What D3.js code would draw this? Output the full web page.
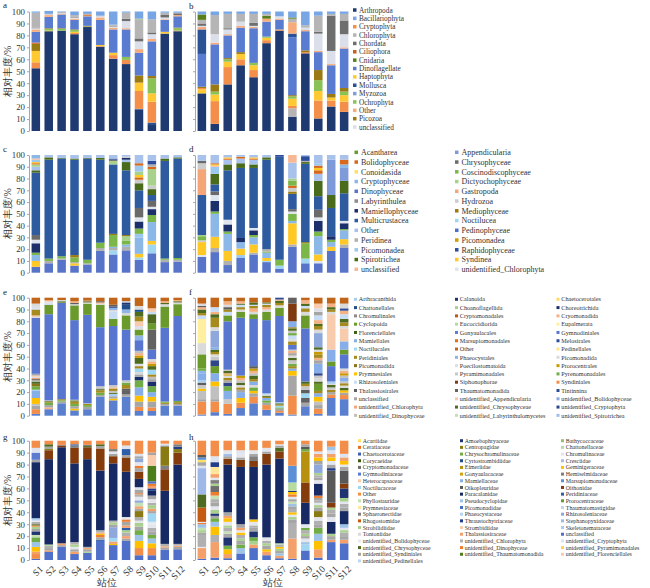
<!DOCTYPE html>
<html><head><meta charset="utf-8">
<script src="https://cdn.jsdelivr.net/npm/d3@7"></script>
<style>body{margin:0;background:#fff}svg{display:block}text{font-family:"Liberation Serif","Times New Roman",serif}</style>
</head><body><svg id="chart" width="650" height="588"></svg>
<script>
const stations = ["S1","S2","S3","S4","S5","S6","S7","S8","S9","S10","S11","S12"];
const yTicks = [0,10,20,30,40,50,60,70,80,90,100];

// ---- panels a, b (phylum) ----
const catsA = ["Arthropoda","Bacillariophyta","Cryptophyta","Chlorophyta","Chordata","Ciliophora","Cnidaria","Dinoflagellate","Haptophyta","Mollusca","Myzozoa","Ochrophyta","Other","Picozoa","unclassified"];
const colorsA = ["#1f3a70","#78a6e4","#f38f4b","#b5b5b5","#6e6e6e","#c8601c","#5a7d1e","#5a7cd0","#ffc933","#2a5294","#7e9fdd","#8ac256","#f7ab7b","#9a7a12","#dadfe9"];
const barsA = [
 [[0,52.5],[2,5],[8,9.5],[13,6],[5,1],[7,9],[12,2],[14,1],[4,0.5],[3,12.5],[1,1]],
 [[0,83.5],[8,0.5],[11,1.5],[13,0.5],[7,9.5],[12,1.5],[14,0.5],[3,0.5],[1,2.5]],
 [[0,84],[11,1.5],[13,0.5],[7,11.5],[12,0.5],[14,0.5],[3,1],[1,0.5]],
 [[0,81],[2,1],[8,1],[11,1.5],[13,0.5],[7,8],[12,1],[14,1],[4,0.5],[3,1.5],[1,3]],
 [[0,87],[11,0.5],[13,0.5],[7,8],[12,0.5],[5,1],[3,0.5],[1,2]],
 [[0,70.5],[2,0.5],[8,1],[7,21],[12,2],[14,1],[3,0.5],[1,3.5]],
 [[0,60.5],[2,3],[8,2],[7,19.5],[12,1.5],[14,1],[4,0.5],[3,1],[1,11]],
 [[0,56],[2,3.5],[11,2.5],[7,23],[12,1],[14,6],[4,2],[3,5],[1,1]],
 [[0,18],[9,0.5],[2,15],[8,7],[13,6],[7,19],[12,3],[14,6.5],[4,2.5],[3,16],[11,0.5],[1,6]],
 [[0,5],[9,2],[2,17.5],[8,7],[11,12.5],[13,2],[7,29],[12,2],[14,4],[4,1.5],[3,11],[1,6.5]],
 [[0,81.5],[8,1.5],[7,10],[12,0.5],[14,1.5],[4,2.5],[3,1.5],[1,1]],
 [[0,83.5],[2,0.5],[11,2],[13,0.5],[7,9.5],[12,1],[4,1.5],[3,0.5],[1,1]]
];
const barsB = [
 [[0,31.5],[8,3.5],[2,1],[13,1],[7,27.5],[9,20.5],[12,2],[14,1],[4,2],[3,3],[6,4.5],[1,2.5]],
 [[0,6],[2,19],[8,5.5],[11,2.5],[13,6],[7,33.5],[12,1.5],[14,7],[3,16],[1,3]],
 [[0,39],[2,14.5],[8,4.5],[11,2],[13,1],[7,19],[12,1],[14,4],[4,1],[3,12],[1,2]],
 [[0,55],[2,5],[8,4.5],[13,1.5],[7,20.5],[12,1.5],[14,3.5],[3,6.5],[1,2]],
 [[0,45],[2,6],[8,4],[11,2],[7,29],[12,1],[14,1],[4,2.5],[3,7.5],[1,2]],
 [[0,73.5],[2,2.5],[8,2],[11,1],[7,12.5],[12,2.5],[6,2.5],[3,1.5],[1,2]],
 [[0,84],[2,1],[7,8],[12,1],[14,2],[1,4]],
 [[0,12],[3,7],[2,2],[8,6],[11,2],[13,1],[7,48.5],[9,3],[12,9.5],[3,3],[6,1],[1,5]],
 [[0,65],[2,1],[13,1.5],[7,16],[12,1],[14,2],[3,2],[1,11.5]],
 [[0,10.5],[2,15],[8,8],[11,9],[13,8.5],[7,15],[12,1],[14,14.5],[4,1.5],[3,13.5],[1,3.5]],
 [[0,20.5],[2,5],[8,2.5],[13,3],[7,24],[12,1],[14,11],[4,29.5],[3,1.5],[1,2]],
 [[0,16],[2,8.5],[8,5.5],[11,3],[13,3],[7,33],[12,1],[14,11],[4,11.5],[3,5.5],[1,2]]
];

// ---- panels c, d (class) ----
const catsC = ["Acantharea","Bolidophyceae","Conoidasida","Cryptophyceae","Dinophyceae","Labyrinthulea","Mamiellophyceae","Multicrustacea","Other","Peridinea","Picomonadea","Spirotrichea","unclassified",
 "Appendicularia","Chrysophyceae","Coscinodiscophyceae","Dictyochophyceae","Gastropoda","Hydrozoa","Mediophyceae","Noctilucea","Pedinophyceae","Picomonadea","Raphidophyceae","Syndinea","unidentified_Chlorophyta"];
const colorsC = ["#6b9a35","#d8691c","#ffe066","#8cb8e8","#5874c8","#8c8c8c","#1b2f6b","#2e5b9f","#a9c2ec","#b0b0b0","#9cc8ef","#4a6b1c","#f8b894",
 "#7f9ad8","#6a6a6a","#7ab648","#a8d28c","#f4a679","#cccccc","#9b7c13","#9fd6f2","#4b72c6","#c9a000","#2e4d9a","#ffc825","#dfe5ee"];
const barsC = [
 [[4,5],[24,5],[3,5],[15,2],[6,8],[25,3],[14,4],[7,53],[11,2],[8,3],[16,2],[1,1],[24,1],[10,2],[12,1],[3,3]],
 [[4,8],[9,2],[15,2],[7,84],[11,2],[8,2]],
 [[4,11],[9,1],[15,2],[7,83],[11,0.5],[8,2.5]],
 [[4,6],[24,2],[9,1],[15,4],[19,2],[7,81],[11,1],[8,3]],
 [[4,7],[9,1],[15,3],[7,86],[11,0.5],[8,2.5]],
 [[4,18.5],[9,2.5],[15,4.5],[7,70.5],[11,1.5],[8,2.5]],
 [[4,15.5],[20,3.5],[9,2],[3,1],[15,10],[19,1],[7,59],[16,3],[14,1],[23,1],[8,3]],
 [[4,19],[9,3],[3,2],[15,3],[16,4],[19,1],[7,55],[11,7],[8,2],[6,1.5],[18,1],[8,1.5]],
 [[4,11],[20,2],[24,3],[3,14],[10,3],[15,4.5],[6,6],[25,3.5],[14,8],[7,15],[11,6],[18,3],[1,2],[24,2],[16,3],[10,5],[1,2],[8,7]],
 [[4,16.5],[20,7.5],[24,3],[3,16],[15,6],[6,5],[25,2],[14,5],[7,5],[11,5],[18,3],[16,14],[1,2],[9,2],[23,3],[8,5]],
 [[4,9],[9,2],[15,1],[7,83],[11,2],[8,3]],
 [[4,9.5],[9,1.5],[15,1.5],[7,84.5],[11,1],[8,2]]
];
const barsD = [
 [[4,13.5],[25,1.5],[24,11],[18,1.5],[15,3.5],[16,1],[7,34],[17,22],[18,5],[14,2],[8,5]],
 [[4,17.5],[9,3.5],[24,9.5],[3,19.5],[15,2],[6,9],[25,5],[14,3],[7,6],[11,9],[10,6],[12,1],[24,1],[1,1],[8,7]],
 [[4,6.5],[9,3.5],[24,8.5],[3,14.5],[15,2],[6,6],[25,4],[7,42],[11,5],[8,4],[1,1],[24,1],[8,2]],
 [[4,12.5],[10,2.5],[24,5.5],[3,5.5],[6,3.5],[7,59.5],[11,4],[8,4],[1,1.5],[8,1.5]],
 [[4,15.5],[9,1.5],[24,7],[3,6],[15,2],[6,4],[25,2],[7,51],[11,3],[8,4],[1,1],[24,1],[8,2]],
 [[4,9],[20,1],[24,2.5],[3,4.5],[15,1],[9,2],[7,76],[11,2],[8,2]],
 [[4,3.5],[20,2.5],[15,5],[7,87.5],[23,1.5]],
 [[4,22],[9,2],[24,18],[3,2],[15,6],[25,2],[14,2],[7,13],[19,2],[18,3],[1,2],[15,4],[16,2],[8,13.5],[12,6.5]],
 [[4,8],[20,4],[15,13],[19,1],[7,66.5],[11,1.5],[9,1],[23,4],[8,1]],
 [[4,8],[25,2],[24,5.5],[3,15.5],[15,4],[6,9],[25,3],[14,6.5],[7,11.5],[11,13],[8,6],[1,3],[24,2],[1,2],[10,2],[8,7]],
 [[4,18.5],[24,3.5],[3,4],[15,2],[6,3],[7,24],[11,11],[13,30],[8,4]],
 [[4,21],[9,3],[24,4.5],[3,7.5],[15,1],[6,5],[25,2],[7,23.5],[11,10.5],[13,11],[3,3],[1,4],[8,4]]
];

// ---- panels e, f (order) ----
const catsE = ["Arthracanthida","Chattonellales","Chromulinales","Cyclopoida","Florenciellales","Mamiellales","Noctilucales","Peridiniales","Picomonadida","Prymnesiales","Rhizosoleniales","Thalassiosirales","unclassified","unidentified_Chlorophyta","unidentified_Dinophyceae",
 "Calanoida","Choanoflagellida","Cryptomonadales","Eucoccidiorida","Gonyaulacales","Marsupiomonadales","Other","Phaeocystales","Poecilostomatoida","Pyramimonadales","Siphonophorae","Thaumatomonadida","unidentified_Appendicularia","unidentified_Chrysophyceae","unidentified_Labyrinthulomycetes",
 "Chaetocerotales","Choreotrichida","Cryomonadida","Eupalmerata","Gymnodiniales","Melosirales","Pedinellales","Picomonadida","Prorocentrales","Pyrenomonadales","Syndiniales","Tintinnina","unidentified_Bolidophyceae","unidentified_Cryptophyta","unidentified_Spirotrichea"];
const colorsE = ["#a8cdef","#1f4e8c","#8a8a8a","#6b9a2c","#3d5c1a","#86aee8","#9ed8f2","#a68a1d","#8a7318","#ffc000","#c8ddf5","#5e5e5e","#a6a6a6","#f4a582","#c0c0c0",
 "#1f3470","#a9d08e","#b95a1a","#b6dba0","#5b7fcf","#e46c1c","#c0651a","#8fb4e8","#dcdfe6","#c8c8c8","#7f3a10","#626262","#f8cbad","#4e6b1f","#c5e0b4",
 "#ffd966","#1d2f6a","#f4b183","#fff0a0","#5876cf","#2c4a9a","#ffe88a","#dadada","#c79a00","#70ad47","#f28e4a","#2a4f96","#8ea8dc","#2e4588","#a2bde8"];
const barsE = [
 [[19,1.5],[40,4],[12,3],[14,1.5],[9,5],[5,6],[0,1],[39,3],[8,2],[28,2],[14,1],[11,1],[13,1],[37,1],[27,1],[12,1.5],[34,47.5],[37,1],[32,1],[7,5],[10,1],[23,2],[37,2],[21,5]],
 [[19,5.5],[32,1.5],[12,2],[39,2],[7,1],[28,0.5],[24,0.5],[34,73],[3,8],[10,1],[37,1],[23,1],[32,1],[21,2]],
 [[19,10.5],[12,1.5],[39,1],[7,1],[34,81.5],[3,0.5],[28,1],[37,1],[21,2]],
 [[19,4.5],[9,1.5],[12,2],[39,2],[7,2],[28,1],[24,0.5],[34,67.5],[3,12.5],[37,1],[11,1],[32,1.5],[21,3]],
 [[19,5.5],[12,2],[39,1.5],[7,1],[24,0.5],[34,75],[3,9.5],[37,1],[28,1],[32,0.5],[21,2.5]],
 [[19,16],[12,1.5],[39,2],[7,2],[28,1],[14,1],[24,1.5],[34,50],[3,19],[37,1],[32,1],[11,1],[21,3]],
 [[19,13],[9,1.5],[12,2],[0,2],[28,1],[14,1.5],[7,2],[32,1],[24,2],[34,50],[3,6],[10,6.5],[37,1],[22,2],[15,1],[11,1.5],[21,6]],
 [[19,16],[12,2],[26,3],[11,2],[7,3],[39,2],[24,2],[34,43],[3,12],[37,2],[22,3],[1,4],[15,2],[10,1],[21,3]],
 [[19,4],[40,3.5],[12,4.5],[9,5],[5,7],[39,6],[31,3],[12,2],[37,2],[6,3],[7,2],[23,2],[28,5],[38,2],[32,2],[14,2],[34,9],[22,4],[3,5],[23,3],[27,4],[7,4],[28,4],[1,2],[37,3],[21,7]],
 [[19,4],[40,3],[12,5],[9,4],[5,4],[39,5],[31,4],[12,2],[14,2],[7,2],[6,4],[28,3],[38,2],[32,2],[37,2],[34,8],[26,17],[3,5],[28,8],[10,2],[27,3],[21,9]],
 [[19,8.5],[12,1.5],[7,1],[39,1],[34,62.5],[3,18],[37,2],[28,1],[32,1.5],[21,3]],
 [[19,8.5],[12,1.5],[7,1.5],[39,1],[34,72],[3,10],[37,1.5],[28,1],[32,1],[21,2]]
];
const barsF = [
 [[19,1],[40,11],[12,2],[14,7],[9,2],[24,3],[11,2],[0,2],[5,6],[22,2],[39,2],[3,12],[37,9.5],[33,20.5],[10,3],[7,2],[28,3],[32,2],[11,1],[37,2],[21,5]],
 [[19,3],[40,9],[12,2],[14,11],[9,4],[5,7],[3,6],[43,5],[24,3],[37,2],[7,2],[28,2],[5,2],[42,14],[37,3],[7,8],[28,3],[32,2],[10,4],[21,8]],
 [[19,1.5],[40,8.5],[24,4],[5,7],[39,4],[43,3],[12,2],[7,2],[37,2],[38,1],[32,1],[28,2],[14,1],[34,41],[3,5],[10,3],[7,2],[11,2],[37,2],[32,3],[21,3]],
 [[19,6.5],[40,4.5],[9,4],[5,5],[12,2],[7,2],[37,2],[28,2],[14,2],[32,2],[38,2],[34,49],[3,5],[37,2],[7,2],[10,2],[28,1],[32,2],[21,3]],
 [[19,10.5],[40,5.5],[12,3],[9,2],[39,3],[37,2],[5,3],[7,2],[28,3],[14,2],[32,2],[38,2],[11,2],[34,40],[3,4],[37,2],[32,3],[7,2],[10,1],[28,2],[21,4]],
 [[19,5],[40,4],[12,2],[39,2],[5,2],[7,1],[28,1],[37,1],[0,1],[34,62],[3,7],[37,2],[32,2],[7,2],[10,1],[28,1],[21,4]],
 [[19,2.5],[40,1.5],[12,2],[39,1],[6,1.5],[7,1],[28,1],[0,1],[34,73],[3,7],[37,2],[7,2],[28,2],[32,1],[35,1.5]],
 [[19,1],[40,16],[12,17],[9,4],[5,2],[7,2],[39,2],[24,3],[28,2],[37,2],[12,2],[32,2],[14,1],[34,4],[7,3],[23,2],[10,3],[39,2],[24,2],[28,2],[7,1],[5,5],[25,15],[26,5]],
 [[19,8],[12,3],[26,4],[6,4],[11,3],[24,3],[7,2],[28,2],[34,45],[3,11],[37,3],[7,3],[10,2],[28,2],[32,3],[21,2]],
 [[19,1.5],[40,4.5],[12,3],[14,3],[9,4],[5,3],[7,2],[3,6],[28,2],[37,3],[24,2],[43,2],[5,8],[12,3],[32,2],[7,3],[38,2],[37,2],[28,2],[42,12],[37,3],[7,3],[28,2],[32,3],[10,4],[12,3],[23,3],[27,4],[21,5]],
 [[19,15],[40,3],[12,2],[7,2],[24,2],[28,2],[37,1],[0,2],[34,13],[3,4],[5,10],[27,30],[37,2],[7,2],[28,2],[32,3],[21,5]],
 [[19,14],[40,3.5],[12,2],[9,2],[28,2],[37,2],[7,2],[24,1.5],[5,3],[14,2],[38,2],[32,2],[37,2],[34,12],[3,4],[5,7],[27,11],[37,2],[7,3],[28,3],[10,4],[32,3],[35,2],[37,4],[21,5]]
];

// ---- panels g, h (family) ----
const catsG = ["Acartiidae","Ceratiaceae","Chaetocerotaceae","Corycaeidae","Cryptomonadaceae","Gymnodiniaceae","Heterocapsaceae","Noctilucaceae","Other","Phyllostauridae","Prymnesiaceae","Sphaeronectidae","Rhogostomidae","Strobilidiidae","Tontoniidae","unidentified_Bolidophyceae","unidentified_Chrysophyceae","unidentified_Syndiniales","unidentified_Pedinellales",
 "Amoebophryaceae","Centropagidae","Chrysochromulinaceae","Cyrtostrombidiidae","Eimeriidae","Gonyaulacaceae","Mamiellaceae","Oikopleuridae","Paracalanidae","Pseudocyclopidae","Picomonadidae","Phaeocystaceae","Thraustochytriaceae","Strombidiidae","Thalassiosiraceae","unidentified_Chlorophyta","unidentified_Dinophyceae","unidentified_Thaumatomonadida",
 "Bathycoccaceae","Chattonellaceae","Chromulinaceae","Cresciidae","Geminigeraceae","Hemiselmidaceae","Marsupiomonadaceae","Oithonidae","Peridiniaceae","Prorocentraceae","Thaumatomastigidae","Rhizosoleniaceae","Stephanopyxidaceae","Skeletonemataceae","unclassified","unidentified_Cryptophyta","unidentified_Pyramimonadales","unidentified_Florenciellales"];
const colorsG = ["#ffe066","#e46c1c","#3d5fb0","#3a5a12","#6e6e6e","#5b7bd0","#f8cbad","#9fd6f2","#f28e4a","#c5e0b4","#ffe699","#7f7f7f","#c55a11","#a9d08e","#d9d9d9","#e6e9f0","#4f6b22","#a6a6a6","#bdd7ee",
 "#1f3470","#8a7a14","#70ad47","#1f4e8c","#b8900f","#d4a017","#86aee8","#595959","#172a63","#9dc3e6","#4472c4","#b4d4f0","#203c8a","#f8cbad","#f4a06a","#b0b0b0","#ed7d31","#4e7d1c",
 "#8fc370","#b6dba0","#e3e6ec","#a2bde8","#ffc000","#7f7f7f","#5b8fd6","#843c0c","#2e5ea8","#6b9a2c","#c9d4e8","#8ea8dc","#9fb8e8","#a8cdef","#4f6fc8","#dde3ef","#ffd24d","#f8cbad"];
const legendColsG = [0,19,37];
const barsG = [
 [[51,1],[8,4],[33,2],[41,4],[28,4],[21,4],[9,2],[19,3],[17,2],[13,2],[35,1],[16,1],[34,2],[15,1],[30,2],[27,47],[17,2],[5,6],[52,4],[8,6]],
 [[51,7],[8,1],[17,2],[34,2],[13,1],[27,71.5],[44,7.5],[20,1],[17,2],[16,2],[8,3]],
 [[51,11],[17,1.5],[33,1.5],[27,80.5],[44,1.5],[42,0.5],[8,3.5]],
 [[51,5],[33,2],[17,2],[39,2],[13,2],[34,2],[27,66],[44,13],[42,2],[45,1],[8,3]],
 [[51,6],[13,1],[17,2],[33,1],[34,1],[27,73.5],[44,10],[16,1],[42,1],[8,3.5]],
 [[51,16],[45,1],[17,2],[35,2],[41,1],[33,1],[34,2],[27,50],[44,18.5],[17,2],[16,1.5],[8,3]],
 [[51,12.5],[41,1],[33,2],[7,3],[48,9],[17,2],[13,2],[34,1.5],[27,48],[44,6],[17,2],[39,2],[42,2],[8,7]],
 [[51,16],[17,2],[33,2],[34,3],[13,2],[45,2],[33,2],[17,3],[35,2],[39,2],[27,38],[44,12],[17,2],[45,5],[52,3],[8,4]],
 [[51,4],[8,6],[41,6],[28,5],[21,4],[17,3],[13,3],[39,2],[34,3],[20,5],[17,2],[33,2],[9,3],[48,2],[39,3],[34,2],[35,1],[17,3],[52,2],[27,7],[44,6],[17,3],[35,2],[39,3],[48,3],[17,2],[52,2],[8,11]],
 [[51,4],[8,6],[41,4],[28,4],[21,3],[17,3],[34,3],[39,3],[15,2],[7,7],[17,2],[33,2],[13,3],[34,2],[39,3],[17,3],[27,4],[31,2],[33,2],[35,2],[51,2],[36,13],[32,9],[17,2],[8,10]],
 [[51,8.5],[17,2],[33,1],[34,2],[27,44.5],[44,18],[11,3],[20,16],[42,1],[52,1.5],[8,2.5]],
 [[51,9],[17,2],[33,1],[34,1.5],[27,66.5],[44,10],[20,3],[31,2],[42,2],[8,3]]
];
const barsH = [
 [[51,1],[33,9],[15,1],[34,10],[17,2],[13,2],[9,2],[28,3],[35,1],[39,1],[12,12],[16,11],[49,22],[52,2],[17,3],[0,2],[43,2],[26,2],[8,12]],
 [[51,2],[33,13],[34,6],[41,7],[28,4],[21,3],[17,2],[19,2],[13,3],[39,3],[17,3],[34,3],[9,3],[35,3],[4,5],[13,2],[11,3],[39,2],[33,3],[10,6],[31,4],[52,5],[8,13]],
 [[51,1.5],[33,3.5],[41,4],[21,3],[19,7],[17,3],[9,2],[34,3],[13,2],[39,3],[41,3],[33,2],[17,3],[27,40],[44,5],[17,2],[40,2],[39,3],[8,8]],
 [[51,5.5],[28,4.5],[21,3],[17,3],[13,2],[34,3],[41,2],[39,2],[33,2],[17,3],[27,48],[44,6],[17,2],[39,3],[52,3],[8,8]],
 [[51,10],[33,3],[13,3],[21,3],[19,5],[17,3],[34,2],[39,3],[41,2],[27,44],[44,5],[42,4],[17,2],[39,3],[8,8]],
 [[51,4],[33,3],[41,2],[17,3],[13,2],[34,2],[39,3],[27,61],[44,9],[17,2],[39,3],[8,6]],
 [[51,1.5],[33,2],[28,2],[17,2],[13,2],[41,1.5],[34,2],[38,1],[27,71],[44,6],[16,3],[17,2],[39,1],[8,3]],
 [[51,1],[33,17],[34,13],[17,3],[13,2],[39,2],[41,2],[34,2],[17,3],[28,2],[9,2],[17,2],[39,2],[35,2],[41,2],[19,1],[38,7],[43,14],[8,21]],
 [[51,8],[7,5],[28,2],[39,3],[17,2],[13,2],[34,3],[21,2],[39,3],[27,18],[44,17],[23,26],[21,2],[26,2],[17,2],[8,3]],
 [[51,2],[33,7],[41,7],[28,6],[21,5],[17,3],[34,3],[39,3],[20,5],[17,3],[13,2],[39,2],[34,2],[17,2],[35,2],[27,10],[39,3],[17,2],[34,2],[13,2],[48,7],[17,3],[41,3],[33,3],[52,2],[8,9]],
 [[51,15],[33,2],[17,3],[13,2],[27,10],[39,4],[17,3],[34,3],[13,2],[44,4],[26,27],[31,2],[17,3],[39,3],[41,3],[33,3],[52,3],[28,3],[8,5]],
 [[51,14],[33,3],[17,3],[34,3],[13,2],[39,2],[28,3],[27,11],[17,3],[34,3],[39,2],[13,3],[19,8],[44,4],[26,11],[17,3],[39,2],[41,3],[33,3],[52,3],[8,11]]
];

const svg = d3.select("#chart");
const SERIF = '"Liberation Serif","Times New Roman",serif';
const CJK = '"Noto Sans CJK SC","Liberation Serif",serif';

function drawPanel(p){
  const x = d3.scaleBand().domain(stations).range(p.xr).paddingInner(0.34).paddingOuter(0.2);
  const y = d3.scaleLinear().domain([0,100]).range([p.yr[0], p.yr[1]]);
  const g = svg.append("g");
  p.bars.forEach((segs,i)=>{
    let acc = 0;
    segs.forEach(([k,v])=>{
      g.append("rect")
        .attr("x", x(stations[i])).attr("width", x.bandwidth())
        .attr("y", y(acc+v)).attr("height", y(acc)-y(acc+v))
        .attr("fill", p.colors[k]);
      acc += v;
    });
  });
  const ax = d3.axisLeft(y).tickValues(yTicks).tickSize(2).tickSizeOuter(0).tickPadding(2);
  if(!p.labels) ax.tickFormat("");
  const ag = g.append("g").attr("transform", `translate(${p.xr[0]},0)`).call(ax);
  ag.select(".domain").attr("stroke","#a6a6a6");
  ag.selectAll(".tick line").attr("stroke","#a6a6a6");
  ag.selectAll(".tick text").attr("font-size",8.8).attr("fill","#333").attr("font-family",SERIF);
  svg.append("text").attr("x",p.letter[0]).attr("y",p.letter[1]).attr("font-size",9).attr("fill","#222").text(p.name);
  if(p.labels){
    const cy = (p.yr[0]+p.yr[1])/2;
    svg.append("text").attr("transform",`translate(11,${cy}) rotate(-90)`).attr("text-anchor","middle")
      .attr("font-size",10).attr("fill","#333").attr("font-family",CJK).text("相对丰度/%");
  }
  if(p.xlab){
    stations.forEach(s=>{
      const cx = x(s)+x.bandwidth()/2;
      svg.append("text").attr("transform",`translate(${cx+3},${p.yr[0]+5}) rotate(-45)`)
        .attr("text-anchor","end").attr("dy","0.7em").attr("font-size",9.5).attr("fill","#333").text(s);
    });
    svg.append("text").attr("x",(p.xr[0]+p.xr[1])/2).attr("y",586).attr("text-anchor","middle")
      .attr("font-size",10).attr("fill","#333").attr("font-family",CJK).text("站位");
  }
}

const rows = [[131,11.5],[272.7,155],[415.7,297.7],[560,440.7]];
const L = [29,184.5], R = [195,351];
drawPanel({name:"a",bars:barsA,colors:colorsA,xr:L,yr:rows[0],labels:true,letter:[3,8]});
drawPanel({name:"b",bars:barsB,colors:colorsA,xr:R,yr:rows[0],labels:false,letter:[189,9]});
drawPanel({name:"c",bars:barsC,colors:colorsC,xr:L,yr:rows[1],labels:true,letter:[3,152]});
drawPanel({name:"d",bars:barsD,colors:colorsC,xr:R,yr:rows[1],labels:false,letter:[189,152]});
drawPanel({name:"e",bars:barsE,colors:colorsE,xr:L,yr:rows[2],labels:true,letter:[3,295]});
drawPanel({name:"f",bars:barsF,colors:colorsE,xr:R,yr:rows[2],labels:false,letter:[189,295]});
drawPanel({name:"g",bars:barsG,colors:colorsG,xr:L,yr:rows[3],labels:true,letter:[3,440],xlab:true});
drawPanel({name:"h",bars:barsH,colors:colorsG,xr:R,yr:rows[3],labels:false,letter:[189,440],xlab:true});

function legend(cats, colors, o){
  cats.forEach((c,i)=>{
    let col = 0;
    o.starts.forEach((s,j)=>{ if(i>=s) col=j; });
    const row = i - o.starts[col];
    const lx = o.xs[col], ly = o.y0 + row*o.step;
    svg.append("rect").attr("x",lx).attr("y",ly-o.sq/2).attr("width",o.sq).attr("height",o.sq).attr("fill",colors[i]);
    svg.append("text").attr("x",lx+o.sq+o.gap).attr("y",ly).attr("dy","0.35em")
      .attr("font-size",o.fs).attr("fill","#333").text(c);
  });
}
legend(catsA, colorsA, {starts:[0], xs:[353], y0:10, step:8.36, sq:3.5, gap:2.5, fs:7.3});
legend(catsC, colorsC, {starts:[0,13], xs:[354.5,455], y0:152.3, step:9.75, sq:3.5, gap:3, fs:8});
legend(catsE, colorsE, {starts:[0,15,30], xs:[354,455,556.5], y0:299.3, step:8.29, sq:3, gap:1.8, fs:6.2});
legend(catsG, colorsG, {starts:legendColsG, xs:[358,460,561], y0:440.7, step:6.68, sq:3, gap:1.8, fs:5.9});
</script>
</body></html>
